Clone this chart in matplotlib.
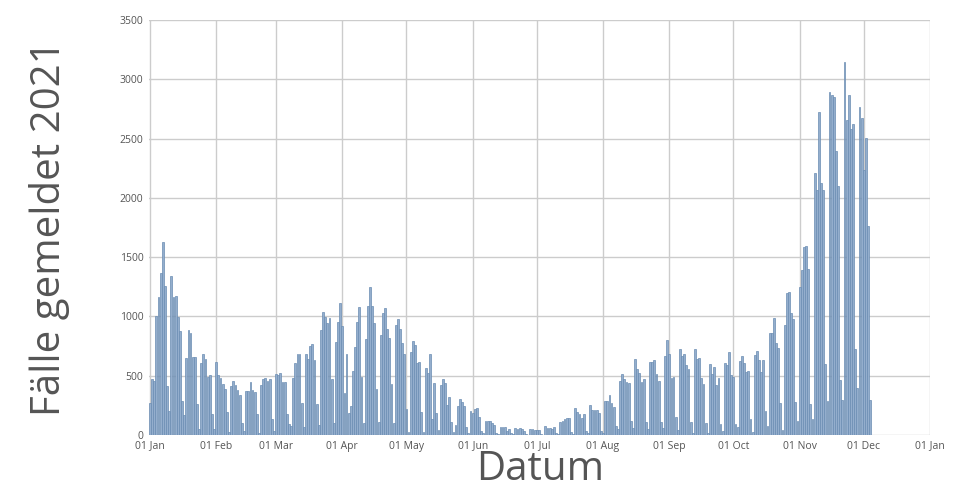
"""
Daily reported cases 2021 as a bar chart.
"""
import datetime
import matplotlib.pyplot as plt

# daily counts per month
jan = [267, 475, 452, 1003, 1166, 1366, 1627, 1256, 416, 205, 1340, 1160, 1172, 998, 874, 290,
       169, 646, 885, 857, 658, 658, 264, 53, 604, 683, 640, 486, 508, 177, 53]
feb = [615, 505, 480, 427, 385, 197, 22, 416, 455, 419, 379, 334, 98, 37, 368, 368, 447, 377,
       362, 174, 14, 419, 472, 483, 458, 475, 132, 31]
mar = [511, 506, 520, 444, 444, 174, 93, 79, 480, 604, 683, 680, 272, 70, 686, 641, 750, 764,
       632, 261, 84, 885, 1037, 998, 941, 983, 472, 104, 787, 953, 1113]
apr = [922, 357, 683, 183, 244, 542, 745, 953, 1076, 492, 104, 809, 1090, 1250, 1090, 941, 388,
       112, 843, 1031, 1068, 891, 815, 427, 98, 927, 978, 891, 778, 683]
may = [219, 28, 703, 790, 756, 610, 612, 197, 28, 562, 520, 680, 132, 441, 183, 42, 419, 475,
       441, 253, 323, 110, 28, 81, 244, 300, 275, 244, 67, 20, 205]
jun = [183, 216, 225, 155, 34, 14, 121, 121, 121, 98, 84, 20, 8, 65, 65, 70, 34, 51, 20, 8, 62,
       51, 56, 51, 37, 8, 0, 48, 48, 42]
jul = [45, 42, 8, 0, 76, 62, 56, 51, 70, 14, 6, 110, 115, 132, 140, 143, 22, 6, 225, 197, 174,
       143, 174, 34, 14, 253, 211, 211, 211, 188, 34]
aug = [20, 289, 289, 334, 273, 233, 76, 51, 455, 511, 469, 450, 440, 115, 62, 641, 559, 520,
       450, 469, 107, 48, 615, 615, 635, 514, 458, 112, 56, 666, 801]
sep = [680, 481, 492, 155, 42, 722, 669, 680, 587, 554, 112, 20, 725, 641, 646, 478, 427, 104,
       20, 596, 511, 576, 422, 478, 90, 34, 604, 590, 697, 506]
okt = [486, 90, 70, 624, 666, 604, 531, 540, 132, 28, 674, 708, 632, 534, 632, 205, 76, 863,
       857, 983, 773, 736, 267, 42, 927, 1200, 1208, 1031, 975, 275, 118]
nov = [1250, 1391, 1588, 1593, 1399, 261, 132, 2206, 2065, 2720, 2127, 2065, 598, 289, 2889,
       2866, 2852, 2397, 2099, 464, 295, 3144, 2655, 2866, 2577, 2627, 722, 393, 2768, 2670]
dec = [2234, 2501, 1765, 295]

month_labels = ["01 Jan", "01 Feb", "01 Mar", "01 Apr", "01 May", "01 Jun", "01 Jul",
                "01 Aug", "01 Sep", "01 Oct", "01 Nov", "01 Dec", "01 Jan"]

counts = jan + feb + mar + apr + may + jun + jul + aug + sep + okt + nov + dec
days = list(range(len(counts)))

start = datetime.date(2021, 1, 1)
month_starts = [(datetime.date(2021, m, 1) - start).days for m in range(1, 13)]
month_starts.append((datetime.date(2022, 1, 1) - start).days)

plt.rcParams["font.family"] = ["Open Sans", "DejaVu Sans"]

fig = plt.figure(figsize=(9.6, 5.0), dpi=100)
ax = fig.add_axes([148.9 / 960, 65 / 500, 781.1 / 960, 415 / 500])
ax.bar(days, counts, width=0.85, color="#94aecd", edgecolor="#6a8cb2", linewidth=0.5)

ax.set_xlim(-0.5, 365)
ax.set_ylim(0, 3500)
ax.set_yticks(range(0, 3501, 500))
ax.set_xticks(month_starts)
ax.set_xticklabels(month_labels)
ax.grid(True, color="#cccccc", linewidth=1)
ax.set_axisbelow(True)
for spine in ax.spines.values():
    spine.set_visible(False)
ax.tick_params(length=0, labelsize=7.5, labelcolor="#555555", pad=4)

fig.text(540 / 960, 1 - 470 / 500, "Datum", ha="center", va="center",
         fontsize=29, color="#555555")
fig.text(50 / 960, 1 - 228 / 500, "Fälle gemeldet 2021", ha="center", va="center",
         rotation=90, fontsize=29, color="#555555")

fig.savefig("out.png", dpi=100)
